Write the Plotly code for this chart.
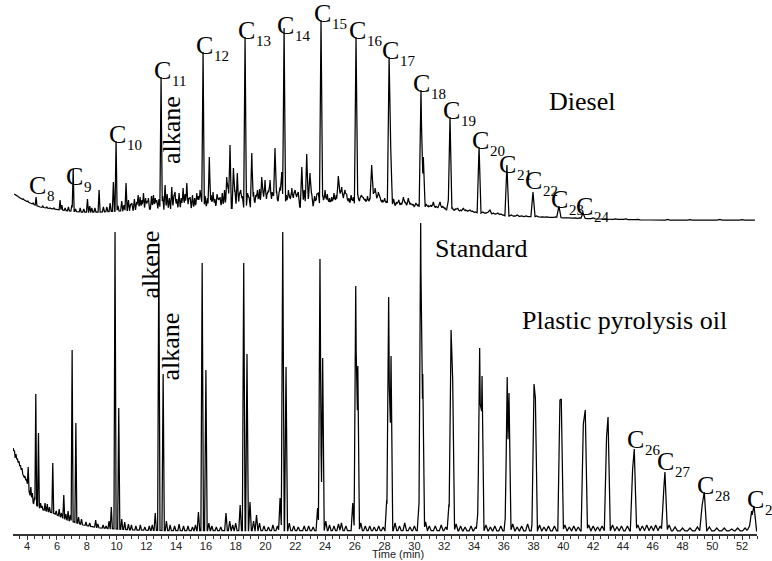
import numpy as np
import plotly.graph_objects as go

# ---------------- Diesel (upper trace, drawn above an offset) ----------------
diesel_offset = 311

diesel_base_t = [3.13, 3.53, 4.20, 4.87, 6.21, 7.56, 8.90, 10.24, 12.26, 15.61, 18.97,
                 22.32, 25.68, 29.03, 30.38, 32.39, 34.40, 36.21, 38.43, 42.46, 45.81, 52.86]
diesel_base_v = [26, 22, 17, 13, 10, 8, 8, 9, 11, 11, 12,
                 13, 13, 13, 12, 9, 7, 4, 3, 1, 0, 0]

# n-alkanes C8 ... C24
diesel_carbons = list(range(8, 25))
diesel_alkane_t = [4.60, 7.09, 9.97, 12.99, 15.81, 18.63, 21.25, 23.73, 26.08, 28.30,
                   30.44, 32.39, 34.34, 36.21, 37.96, 39.70, 41.32]
diesel_alkane_v = [23, 51, 79, 143, 168, 183, 192, 200, 183, 163,
                   130, 103, 73, 55, 28, 14, 7]

# other resolved components
diesel_minor_t = [5.32, 5.54, 6.21, 6.33, 6.77, 7.00, 7.56, 8.05, 8.34, 8.83, 9.12, 9.57, 9.79,
                  10.64, 11.03, 11.58, 11.81, 12.14, 12.48, 12.70, 13.26, 13.71, 13.93, 14.47,
                  14.72, 14.94, 15.39, 15.61, 16.23, 16.48, 16.95, 17.40, 17.62, 17.85, 18.11,
                  18.34, 19.08, 19.46, 19.75, 19.97, 20.31, 20.64, 20.98, 21.09, 21.54, 21.77,
                  21.99, 22.44, 22.77, 22.99, 23.55, 24.00, 24.45, 24.89, 25.12, 25.34, 25.90,
                  26.57, 27.13, 27.36, 27.58, 28.41, 29.26, 29.59, 30.60, 31.27, 31.72, 32.28,
                  33.28, 33.73, 35.07, 35.60]
diesel_minor_v = [13, 12, 20, 15, 13, 15, 12, 21, 12, 30, 13, 17, 38,
                  37, 17, 23, 27, 22, 25, 20, 35, 33, 28, 32,
                  37, 23, 27, 30, 63, 28, 23, 43, 75, 52, 47,
                  30, 67, 30, 43, 40, 40, 72, 33, 48, 30, 32,
                  30, 53, 66, 47, 27, 30, 23, 44, 33, 30, 23,
                  23, 55, 32, 28, 72, 23, 22, 63, 18, 18, 20,
                  12, 10, 10, 7]

# unresolved background of the diesel hump
diesel_noise_t = [3.35, 3.75, 4.05, 4.40, 5.05, 5.80, 6.55, 7.25, 7.80, 8.20, 8.55, 9.35,
                  10.10, 10.35, 10.50, 10.80, 10.95, 11.20, 11.35, 11.45, 11.70, 11.95, 12.05,
                  12.35, 12.60, 12.85, 13.10, 13.40, 13.55, 13.85, 14.05, 14.20, 14.35, 14.60,
                  14.85, 15.10, 15.25, 15.50, 15.70, 15.95, 16.10, 16.35, 16.60, 16.75, 16.85,
                  17.10, 17.25, 17.50, 17.95, 18.25, 18.45, 18.80, 18.90, 19.20, 19.35, 19.60,
                  19.85, 20.10, 20.20, 20.45, 20.55, 20.75, 20.90, 21.20, 21.40, 21.65, 21.90,
                  22.10, 22.20, 22.60, 22.90, 23.10, 23.30, 23.45, 23.85, 24.15, 24.30, 24.60,
                  24.75, 25.00, 25.25, 25.45, 25.60, 25.75, 26.20, 26.35, 26.45, 26.70, 26.85,
                  27.00, 27.25, 27.45, 27.70, 27.85, 28.00, 28.15, 28.60, 28.80, 28.95, 29.10,
                  29.40, 29.75, 29.90, 30.10, 30.25, 30.80, 30.95, 31.10, 31.45, 31.60, 31.90,
                  32.05, 32.55, 32.75, 32.90, 33.10, 33.45, 33.60, 33.90, 34.10, 34.60, 34.80,
                  34.95, 35.30, 35.45, 35.80, 35.95, 36.50, 36.70, 36.90, 37.20, 37.50, 37.70,
                  38.20, 38.60, 38.90, 39.20, 39.50, 40.00, 40.40, 40.80, 41.10, 41.60, 42.00,
                  42.80, 43.50, 44.20, 45.00, 47.00, 48.50, 50.50, 52.00]
diesel_noise_v = [24, 21, 19, 17, 14, 12, 12, 11, 11, 14, 12, 13,
                  14, 19, 15, 20, 16, 21, 18, 25, 20, 22, 19,
                  24, 22, 21, 24, 26, 22, 24, 21, 27, 22, 26,
                  22, 25, 22, 24, 21, 24, 22, 25, 21, 26, 22,
                  27, 30, 34, 30, 26, 24, 27, 23, 28, 25, 31,
                  27, 26, 30, 28, 25, 29, 26, 22, 25, 23, 26,
                  24, 28, 30, 24, 27, 24, 26, 25, 26, 22, 27,
                  25, 28, 24, 26, 22, 25, 26, 22, 25, 21, 24,
                  22, 27, 24, 23, 20, 22, 19, 21, 18, 20, 17,
                  18, 17, 16, 17, 15, 16, 14, 15, 14, 13, 14,
                  12, 12, 11, 12, 10, 10, 9, 9, 8, 8, 7,
                  8, 7, 6, 6, 5, 5, 4, 5, 4, 4, 3,
                  4, 3, 3, 2, 3, 2, 2, 2, 2, 1, 2,
                  1, 1, 1, 0.6, 0.5, 0.4, 0.5, 0.4]

# ---------------- Plastic pyrolysis oil (lower trace) ----------------
oil_base_t = [3.06, 3.19, 3.33, 3.40, 3.73, 4.00, 4.20, 4.40, 5.07, 5.74, 6.68, 7.76,
              8.90, 11.10, 13.00, 53.00]
oil_base_v = [83, 73, 71, 68, 56, 48, 35, 28, 21, 18, 11, 6,
              3, 1, 0.5, 0]

# alkene / alkane doublets and other main components
oil_peak_t = [4.07, 4.58, 4.76, 5.72, 6.46, 7.02, 7.27, 9.65, 9.90, 10.15,
              12.60, 12.84, 13.13, 15.50, 15.75, 16.00, 17.35, 18.30, 18.54, 18.76,
              18.96, 19.40, 20.98, 21.16, 21.38, 23.50, 23.66, 23.84, 25.86, 26.06,
              26.20, 28.14, 28.27, 28.43, 30.31, 30.42, 30.56, 32.32, 32.46, 32.57,
              34.29, 34.38, 34.54, 36.15, 36.23, 36.35, 37.98, 38.03, 38.12, 39.77,
              39.86, 41.34, 41.47, 42.90, 43.00, 44.65, 44.76, 46.75, 46.82, 49.32,
              49.46, 52.64, 52.80]
oil_peak_v = [64, 137, 98, 68, 36, 181, 108, 24, 299, 123,
              18, 287, 157, 19, 268, 161, 18, 26, 268, 177,
              29, 16, 33, 299, 164, 23, 272, 173, 28, 245,
              165, 31, 234, 175, 28, 308, 157, 27, 201, 151,
              25, 183, 155, 21, 154, 138, 18, 147, 134, 131,
              132, 107, 121, 94, 114, 62, 82, 44, 59, 26,
              39, 20, 25]

oil_noise_t = [3.15, 3.25, 3.35, 3.45, 3.55, 3.65, 3.85, 3.95, 4.25, 4.35, 4.50, 4.90,
               5.00, 5.20, 5.35, 5.50, 5.95, 6.15, 6.30, 6.60, 6.75, 6.90, 7.45, 7.65,
               7.95, 8.20, 8.60, 8.75, 9.10, 9.30, 9.50, 10.35, 10.55, 10.80, 11.00, 11.30,
               11.60, 11.90, 12.20, 12.40, 13.35, 13.60, 13.90, 14.20, 14.50, 14.80, 15.10,
               15.30, 16.20, 16.40, 16.70, 17.00, 17.60, 17.80, 18.00, 19.20, 19.60, 19.90,
               20.20, 20.50, 20.80, 21.60, 21.90, 22.20, 22.60, 22.90, 23.20, 24.05, 24.30,
               24.60, 24.90, 25.10, 25.40, 26.40, 26.70, 27.00, 27.30, 27.60, 27.90, 28.70,
               29.00, 29.35, 29.70, 30.00, 30.75, 31.00, 31.40, 31.80, 32.10, 32.80, 33.10,
               33.40, 33.80, 34.10, 34.80, 35.10, 35.40, 35.80, 36.60, 36.90, 37.20, 37.60,
               38.40, 38.70, 39.00, 39.40, 40.10, 40.40, 40.70, 41.00, 41.70, 42.00, 42.30,
               42.60, 43.30, 43.60, 43.90, 44.30, 45.00, 45.30, 45.60, 45.90, 46.20, 46.50,
               47.10, 47.50, 48.00, 48.50, 49.00, 49.80, 50.30, 50.80, 51.30, 51.70, 52.20,
               52.50]
oil_noise_v = [80, 77, 72, 70, 66, 63, 55, 52, 44, 38, 34, 28,
               25, 28, 27, 24, 20, 22, 18, 17, 20, 16, 14, 12,
               9, 8, 11, 7, 6, 5, 10, 12, 9, 7, 6, 5,
               6, 4, 5, 6, 10, 6, 5, 7, 5, 5, 4,
               6, 8, 5, 4, 4, 10, 6, 8, 10, 8, 5,
               4, 6, 5, 8, 5, 4, 5, 5, 4, 10, 6,
               5, 7, 8, 5, 8, 5, 5, 4, 5, 4, 8,
               5, 8, 4, 5, 9, 5, 5, 6, 4, 7, 5,
               4, 5, 4, 6, 4, 5, 5, 7, 4, 5, 7,
               6, 4, 5, 5, 6, 4, 5, 4, 6, 5, 4,
               5, 6, 4, 5, 5, 6, 5, 6, 5, 6, 5,
               6, 4, 3, 3, 4, 4, 3, 3, 2, 3, 3,
               5]

# labelled carbon numbers of the oil
oil_label_carbons = [26, 27, 28, 29]
oil_label_t = [44.76, 46.82, 49.46, 52.80]
oil_label_v = [82, 59, 39, 25]

tick_vals = list(range(4, 54, 2))
SERIF = "Liberation Serif, Times New Roman, serif"
SANS = "Liberation Sans, Arial, sans-serif"

# vertical placement of the carbon-number labels (px above the peak tip)
LABEL_LIFT = 7
label_nudge = {8: 5, 9: -14, 14: -4, 21: -6, 22: 5, 26: 3, 27: 4}


def peak_width(t):
    # peaks broaden slowly with retention time
    return 0.055 + 0.0024 * (np.asarray(t) - 3.0)


def chromatogram(base_t, base_v, peak_t, peak_v, t0, t1):
    pt = np.asarray(peak_t, float)
    pv = np.asarray(peak_v, float)
    w = peak_width(pt)
    h = np.maximum(pv - np.interp(pt, base_t, base_v), 0.0)
    grid = np.unique(np.concatenate([base_t, pt - w, pt, pt + w, [t0, t1]]))
    grid = grid[(grid >= t0) & (grid <= t1)]
    tri = np.clip(1.0 - np.abs(grid[:, None] - pt[None, :]) / w[None, :], 0, None) * h[None, :]
    return grid, np.interp(grid, base_t, base_v) + tri.max(axis=1)


d_t, d_v = chromatogram(diesel_base_t, diesel_base_v,
                        diesel_alkane_t + diesel_minor_t + diesel_noise_t,
                        diesel_alkane_v + diesel_minor_v + diesel_noise_v, 3.13, 52.86)
o_t, o_v = chromatogram(oil_base_t, oil_base_v,
                        oil_peak_t + oil_noise_t, oil_peak_v + oil_noise_v, 3.06, 52.98)

fig = go.Figure()
line = dict(color="black", width=1.25, simplify=False)
fig.add_trace(go.Scatter(x=o_t, y=o_v, mode="lines", line=line, hoverinfo="skip"))
fig.add_trace(go.Scatter(x=d_t, y=d_v + diesel_offset, mode="lines", line=line, hoverinfo="skip"))

label_font = dict(family=SERIF, size=26, color="black")
sub_font = dict(family=SERIF, size=15, color="black")


def carbon_label(n, t, v):
    lift = LABEL_LIFT + label_nudge.get(n, 0)
    fig.add_annotation(x=t, y=v, xref="x", yref="y", text="C", showarrow=False,
                       xanchor="left", yanchor="middle", borderpad=0,
                       xshift=-8.5, yshift=lift, font=label_font)
    fig.add_annotation(x=t, y=v, xref="x", yref="y", text=str(n), showarrow=False,
                       xanchor="left", yanchor="middle", borderpad=0,
                       xshift=9.5, yshift=lift - 11, font=sub_font)


for n, t, v in zip(diesel_carbons, diesel_alkane_t, diesel_alkane_v):
    carbon_label(n, t, v + diesel_offset)
for n, t, v in zip(oil_label_carbons, oil_label_t, oil_label_v):
    carbon_label(n, t, v)

texts = [
    dict(text="Diesel", x=38.95, y=430, xanchor="left", yanchor="middle", textangle=0),
    dict(text="Standard", x=31.3, y=283, xanchor="left", yanchor="middle", textangle=0),
    dict(text="Plastic pyrolysis oil", x=37.15, y=211, xanchor="left", yanchor="middle", textangle=0),
    dict(text="alkane", x=13.66, y=401, xanchor="center", yanchor="middle", textangle=-90),
    dict(text="alkene", x=12.22, y=266, xanchor="center", yanchor="middle", textangle=-90),
    dict(text="alkane", x=13.62, y=185, xanchor="center", yanchor="middle", textangle=-90),
]
for a in texts:
    fig.add_annotation(xref="x", yref="y", showarrow=False, font=label_font, borderpad=0, **a)

fig.add_annotation(x=28.9, y=0, xref="x", yref="paper", text="Time (min)", showarrow=False,
                   xanchor="center", yanchor="top", yshift=-12.5, borderpad=0,
                   font=dict(family=SANS, size=11, color="#222"))

fig.update_layout(
    width=772, height=561,
    margin=dict(l=13, r=15, t=0, b=27),
    plot_bgcolor="white", paper_bgcolor="white",
    showlegend=False,
    xaxis=dict(range=[3.05, 53.0], tickvals=tick_vals, ticks="outside", ticklen=4,
               tickwidth=1, tickcolor="#333", showline=True, linecolor="#333", linewidth=1.5,
               showgrid=False, zeroline=False, ticklabelstandoff=-3,
               tickfont=dict(family=SANS, size=11, color="#222"),
               minor=dict(dtick=0.5, tick0=0, ticks="outside", ticklen=3, tickcolor="#333",
                          showgrid=False)),
    yaxis=dict(range=[-3, 531], visible=False, showgrid=False, zeroline=False),
)

fig.write_html("out.html")
